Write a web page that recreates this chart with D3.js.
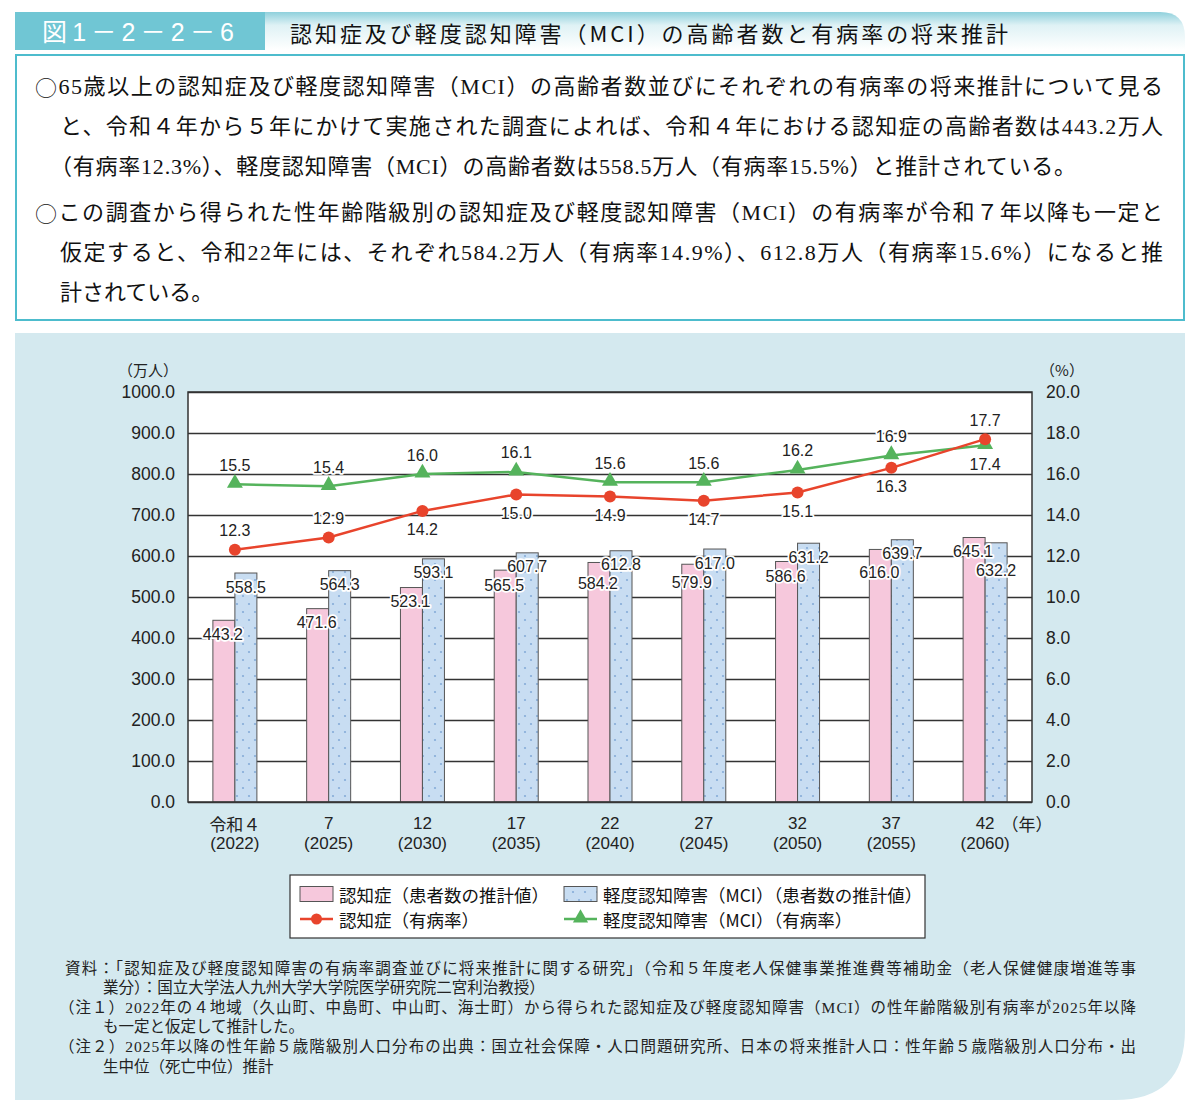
<!DOCTYPE html>
<html><head><meta charset="utf-8">
<script src="https://cdn.jsdelivr.net/npm/d3@7/dist/d3.min.js"></script>
<style>
html,body{margin:0;padding:0;background:#fff;}
svg{display:block;}
</style></head>
<body>
<svg id="c" width="1200" height="1118"></svg>
<script>
// ---------- data ----------
const categories = ["令和４", "7", "12", "17", "22", "27", "32", "37", "42"];
const yearLabels = ["(2022)", "(2025)", "(2030)", "(2035)", "(2040)", "(2045)", "(2050)", "(2055)", "(2060)"];
const dementiaCount = [443.2, 471.6, 523.1, 565.5, 584.2, 579.9, 586.6, 616.0, 645.1];
const mciCount = [558.5, 564.3, 593.1, 607.7, 612.8, 617.0, 631.2, 639.7, 632.2];
const dementiaRate = [12.3, 12.9, 14.2, 15.0, 14.9, 14.7, 15.1, 16.3, 17.7];
const mciRate = [15.5, 15.4, 16.0, 16.1, 15.6, 15.6, 16.2, 16.9, 17.4];
const leftTicks = [0, 100, 200, 300, 400, 500, 600, 700, 800, 900, 1000];
const rightTicks = [0, 2, 4, 6, 8, 10, 12, 14, 16, 18, 20];
const seriesNames = ["認知症（患者数の推計値）", "軽度認知障害（MCI）（患者数の推計値）", "認知症（有病率）", "軽度認知障害（MCI）（有病率）"];

const headerLabel = "図1－2－2－6";
const titleText = "認知症及び軽度認知障害（MCI）の高齢者数と有病率の将来推計";
const descLines = [
  "○65歳以上の認知症及び軽度認知障害（MCI）の高齢者数並びにそれぞれの有病率の将来推計について見る",
  "と、令和４年から５年にかけて実施された調査によれば、令和４年における認知症の高齢者数は443.2万人",
  "（有病率12.3%）、軽度認知障害（MCI）の高齢者数は558.5万人（有病率15.5%）と推計されている。",
  "○この調査から得られた性年齢階級別の認知症及び軽度認知障害（MCI）の有病率が令和７年以降も一定と",
  "仮定すると、令和22年には、それぞれ584.2万人（有病率14.9%）、612.8万人（有病率15.6%）になると推",
  "計されている。"
];
const noteLines = [
  "資料：「認知症及び軽度認知障害の有病率調査並びに将来推計に関する研究」（令和５年度老人保健事業推進費等補助金（老人保健健康増進等事",
  "業分）：国立大学法人九州大学大学院医学研究院二宮利治教授）",
  "（注１）2022年の４地域（久山町、中島町、中山町、海士町）から得られた認知症及び軽度認知障害（MCI）の性年齢階級別有病率が2025年以降",
  "も一定と仮定して推計した。",
  "（注２）2025年以降の性年齢５歳階級別人口分布の出典：国立社会保障・人口問題研究所、日本の将来推計人口：性年齢５歳階級別人口分布・出",
  "生中位（死亡中位）推計"
];

// ---------- styles ----------
const SANS = "'Liberation Sans', Arial, 'Noto Sans CJK JP', sans-serif";
const JP = "'Noto Sans CJK JP', sans-serif";
const SERIF = "'Liberation Serif', 'Noto Sans CJK JP', serif";
const C = {
  teal: "#70c6d4", border: "#4dbccd", panel: "#d4e9ef",
  pink: "#f6c8dc", blue: "#c8ddf2", dot: "#86acd8",
  red: "#e8442c", green: "#55b35c", grid: "#333", text: "#222"
};

const svg = d3.select("#c");
const defs = svg.append("defs");
const hg = defs.append("linearGradient").attr("id", "hg").attr("x1", 0).attr("y1", 0).attr("x2", 0).attr("y2", 1);
hg.append("stop").attr("offset", "0%").attr("stop-color", "#8fd0dc");
hg.append("stop").attr("offset", "35%").attr("stop-color", "#dff2f5");
hg.append("stop").attr("offset", "100%").attr("stop-color", "#ffffff");
const pat = defs.append("pattern").attr("id", "dots").attr("patternUnits", "userSpaceOnUse")
  .attr("width", 12).attr("height", 16);
pat.append("rect").attr("width", 12).attr("height", 16).attr("fill", C.blue);
pat.append("circle").attr("cx", 3).attr("cy", 4).attr("r", 1.1).attr("fill", C.dot);
pat.append("circle").attr("cx", 9).attr("cy", 12).attr("r", 1.1).attr("fill", C.dot);

// ---------- header ----------
svg.append("path")
  .attr("d", "M265,12 H1160 Q1185,12 1185,37 V50 H265 Z")
  .attr("fill", "url(#hg)");
svg.append("rect").attr("x", 15).attr("y", 12).attr("width", 250).attr("height", 38).attr("fill", C.teal);
svg.append("text").attr("x", 42).attr("y", 32).attr("dominant-baseline", "central")
  .attr("font-family", SANS).attr("font-size", 25).attr("fill", "#fff")
  .attr("textLength", 192).attr("lengthAdjust", "spacing").text(headerLabel);
svg.append("text").attr("x", 290).attr("y", 32).attr("dominant-baseline", "central")
  .attr("font-family", JP).attr("font-size", 22).attr("fill", "#111")
  .attr("textLength", 718).attr("lengthAdjust", "spacing").text(titleText);

// ---------- description box ----------
svg.append("rect").attr("x", 16).attr("y", 55).attr("width", 1168).attr("height", 265)
  .attr("fill", "#fff").attr("stroke", C.border).attr("stroke-width", 2);
const descY = [86, 126, 166, 212, 252, 292];
const descX = [35, 60, 50, 35, 60, 60];
const descEnd = [1163, 1163, 1076, 1163, 1163, null];
descLines.forEach((t, i) => {
  const el = svg.append("text").attr("x", descX[i]).attr("y", descY[i])
    .attr("dominant-baseline", "central").attr("font-family", SERIF)
    .attr("font-size", 22).attr("fill", "#111");
  if (t.startsWith("○")) {
    el.append("tspan").attr("font-family", JP).attr("font-weight", 300).text("○");
    el.append("tspan").text(t.slice(1));
  } else el.text(t);
  if (descEnd[i]) el.attr("textLength", descEnd[i] - descX[i]).attr("lengthAdjust", "spacing");
});

// ---------- chart panel ----------
svg.append("path")
  .attr("d", "M15,333 H1185 V1030 Q1185,1100 1115,1100 H15 Z")
  .attr("fill", C.panel);

const plot = { left: 188, right: 1032, top: 392, bottom: 802 };
const x = d3.scaleBand().domain(categories).range([plot.left, plot.right]).padding(0);
const yL = d3.scaleLinear().domain([0, 1000]).range([plot.bottom, plot.top]);
const yR = d3.scaleLinear().domain([0, 20]).range([plot.bottom, plot.top]);
const barW = 22;
const cx = c => x(c) + x.bandwidth() / 2;

svg.append("rect").attr("x", plot.left).attr("y", plot.top)
  .attr("width", plot.right - plot.left).attr("height", plot.bottom - plot.top).attr("fill", "#fff");

// gridlines
svg.append("g").attr("transform", `translate(${plot.left},0)`)
  .call(d3.axisLeft(yL).tickValues(leftTicks).tickSize(-(plot.right - plot.left)).tickFormat(""))
  .call(g => g.select(".domain").remove())
  .call(g => g.selectAll("line").attr("stroke", C.grid).attr("stroke-width", 1.5));

// axis labels
svg.append("g").attr("transform", `translate(${plot.left},0)`)
  .call(d3.axisLeft(yL).tickValues(leftTicks).tickSize(0).tickPadding(13).tickFormat(d3.format(".1f")))
  .call(g => g.select(".domain").remove())
  .call(g => g.selectAll("text").attr("font-family", SANS).attr("font-size", 17.5).attr("fill", C.text));
svg.append("g").attr("transform", `translate(${plot.right},0)`)
  .call(d3.axisRight(yR).tickValues(rightTicks).tickSize(0).tickPadding(14).tickFormat(d3.format(".1f")))
  .call(g => g.select(".domain").remove())
  .call(g => g.selectAll("text").attr("font-family", SANS).attr("font-size", 17.5).attr("fill", C.text));

svg.append("text").attr("x", 148).attr("y", 369).attr("text-anchor", "middle").attr("dominant-baseline", "central")
  .attr("font-family", JP).attr("font-size", 15).attr("fill", C.text).text("（万人）");
svg.append("text").attr("x", 1062).attr("y", 369).attr("text-anchor", "middle").attr("dominant-baseline", "central")
  .attr("font-family", JP).attr("font-size", 15).attr("fill", C.text).text("（%）");

// x labels
const xl = svg.append("g");
categories.forEach((c, i) => {
  xl.append("text").attr("x", cx(c)).attr("y", 823).attr("text-anchor", "middle").attr("dominant-baseline", "central")
    .attr("font-family", i === 0 ? JP : SANS).attr("font-size", 17).attr("fill", C.text).text(c);
  xl.append("text").attr("x", cx(c)).attr("y", 843).attr("text-anchor", "middle").attr("dominant-baseline", "central")
    .attr("font-family", SANS).attr("font-size", 17).attr("fill", C.text).text(yearLabels[i]);
});
xl.append("text").attr("x", 1027).attr("y", 823).attr("text-anchor", "middle").attr("dominant-baseline", "central")
  .attr("font-family", JP).attr("font-size", 17).attr("fill", C.text).text("（年）");

// bars
svg.append("g").selectAll("rect").data(categories).join("rect")
  .attr("x", c => cx(c) - barW).attr("y", (c, i) => yL(dementiaCount[i]))
  .attr("width", barW).attr("height", (c, i) => yL(0) - yL(dementiaCount[i]))
  .attr("fill", C.pink).attr("stroke", "#555").attr("stroke-width", 1);
svg.append("g").selectAll("rect").data(categories).join("rect")
  .attr("x", c => cx(c)).attr("y", (c, i) => yL(mciCount[i]))
  .attr("width", barW).attr("height", (c, i) => yL(0) - yL(mciCount[i]))
  .attr("fill", "url(#dots)").attr("stroke", "#555").attr("stroke-width", 1);

// lines
const line = d3.line().x(d => d[0]).y(d => d[1]);
const redPts = categories.map((c, i) => [cx(c), yR(dementiaRate[i])]);
const greenPts = categories.map((c, i) => [cx(c), yR(mciRate[i])]);
svg.append("path").attr("d", line(greenPts)).attr("fill", "none").attr("stroke", C.green).attr("stroke-width", 2.5);
svg.append("path").attr("d", line(redPts)).attr("fill", "none").attr("stroke", C.red).attr("stroke-width", 2.5);
svg.append("g").selectAll("path").data(greenPts).join("path")
  .attr("transform", d => `translate(${d[0]},${d[1] - 1})`)
  .attr("d", d3.symbol(d3.symbolTriangle, 110)).attr("fill", C.green);
svg.append("g").selectAll("circle").data(redPts).join("circle")
  .attr("cx", d => d[0]).attr("cy", d => d[1]).attr("r", 6).attr("fill", C.red);

// value labels
function label(xp, yp, t) {
  svg.append("text").attr("x", xp).attr("y", yp).attr("text-anchor", "middle").attr("dominant-baseline", "central")
    .attr("font-family", SANS).attr("font-size", 16).attr("fill", C.text)
    .attr("stroke", "#fff").attr("stroke-width", 3.5).attr("paint-order", "stroke").attr("stroke-linejoin", "round")
    .text(t);
}
categories.forEach((c, i) => {
  let yp = yL(dementiaCount[i]) + 14, yb = yL(mciCount[i]) + 14;
  if (Math.abs(yp - yb) < 19) {
    if (dementiaCount[i] < mciCount[i]) yp = yb + 19; else yb = yp + 19;
  }
  label(cx(c) - barW / 2 - 1, yp, d3.format(".1f")(dementiaCount[i]));
  label(cx(c) + barW / 2, yb, d3.format(".1f")(mciCount[i]));
  // rate labels: above unless close to the other series, then away from it
  const r = dementiaRate[i], g = mciRate[i];
  const redAbove = (Math.abs(r - g) >= 2) || r > g;
  const greenAbove = g >= r;
  label(cx(c), yR(r) + (redAbove ? -19 : 19), d3.format(".1f")(r));
  label(cx(c), yR(g) + (greenAbove ? -19 : 19), d3.format(".1f")(g));
});

// plot border
svg.append("rect").attr("x", plot.left).attr("y", plot.top)
  .attr("width", plot.right - plot.left).attr("height", plot.bottom - plot.top)
  .attr("fill", "none").attr("stroke", C.grid).attr("stroke-width", 1.5);

// ---------- legend ----------
const lg = svg.append("g");
lg.append("rect").attr("x", 290).attr("y", 875).attr("width", 635).attr("height", 63)
  .attr("fill", "#fff").attr("stroke", "#333").attr("stroke-width", 1.2);
const lgItems = [
  { x: 300, y: 894, type: "bar", fill: C.pink },
  { x: 564, y: 894, type: "bar", fill: "url(#dots)" },
  { x: 300, y: 919, type: "circle", col: C.red },
  { x: 564, y: 919, type: "tri", col: C.green }
];
lgItems.forEach((it, i) => {
  if (it.type === "bar") {
    lg.append("rect").attr("x", it.x).attr("y", it.y - 7.5).attr("width", 33).attr("height", 15)
      .attr("fill", it.fill).attr("stroke", "#555").attr("stroke-width", 1);
  } else {
    lg.append("line").attr("x1", it.x).attr("x2", it.x + 33).attr("y1", it.y).attr("y2", it.y)
      .attr("stroke", it.col).attr("stroke-width", 2.5);
    if (it.type === "circle") lg.append("circle").attr("cx", it.x + 16.5).attr("cy", it.y).attr("r", 5.5).attr("fill", it.col);
    else lg.append("path").attr("transform", `translate(${it.x + 16.5},${it.y - 1})`)
      .attr("d", d3.symbol(d3.symbolTriangle, 100)).attr("fill", it.col);
  }
  lg.append("text").attr("x", it.x + 39).attr("y", it.y).attr("dominant-baseline", "central")
    .attr("font-family", JP).attr("font-size", 17.5).attr("fill", "#111").text(seriesNames[i]);
});

// ---------- notes ----------
const noteY = [968, 987, 1007, 1026, 1046, 1066];
const noteX = [65, 103, 59, 103, 59, 103];
const noteFull = [true, false, true, false, true, false];
noteLines.forEach((t, i) => {
  const el = svg.append("text").attr("x", noteX[i]).attr("y", noteY[i]).attr("dominant-baseline", "central")
    .attr("font-family", SERIF).attr("font-size", 15.5).attr("fill", "#222").text(t);
  if (noteFull[i]) el.attr("textLength", 1136 - noteX[i]).attr("lengthAdjust", "spacing");
});
</script>
</body></html>
